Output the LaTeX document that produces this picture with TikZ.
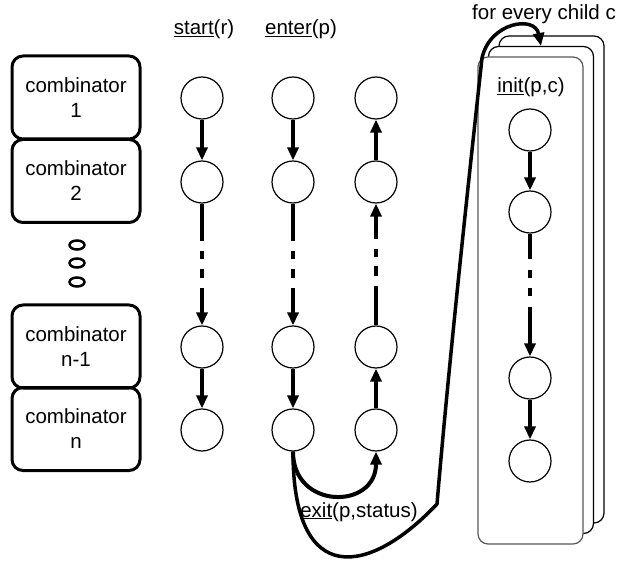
\documentclass[tikz,border=0pt]{standalone}
\usepackage{fontspec}
\setmainfont{Liberation Sans}
\usetikzlibrary{arrows.meta}
\begin{document}
\begin{tikzpicture}[x=1pt,y=-1pt,
  txt/.style={font=\fontsize{20.5}{25}\selectfont},
  comb/.style={draw, line width=3pt, rounded corners=11pt, minimum width=128pt, minimum height=83pt, align=center, inner sep=0pt, txt},
  st/.style={draw, circle, line width=1.2pt, minimum size=42pt, inner sep=0pt},
  tip/.style={-{Triangle[length=13pt,width=11pt]}},
  arr/.style={line width=4pt, tip},
  dd/.style={dash pattern=on 37pt off 10pt on 8pt off 10pt on 9pt off 10pt on 300pt},
  ddup/.style={dash pattern=on 39pt off 10pt on 10pt off 9pt on 8pt off 10pt on 300pt},
  ddi/.style={dash pattern=on 25pt off 11pt on 8pt off 10pt on 8pt off 11pt on 300pt},
  lab/.style={txt, inner sep=0pt, anchor=base},
  card/.style={draw, fill=white, line width=1.2pt, rounded corners=10pt}]
\useasboundingbox (0,0) rectangle (624,561);

% combinator boxes
\node[comb] (c1) at (76,97.5) {combinator\\1};
\node[comb] (c2) at (76,181) {combinator\\2};
\node[comb] (c3) at (76,346.5) {combinator\\n-1};
\node[comb] (c4) at (76,429) {combinator\\n};
\foreach \y in {245,263,282} \draw[line width=2.5pt] (77,\y) ellipse [x radius=7.5pt, y radius=4.5pt];

% labels
\node[lab] (ls) at (204,34.5) {\underline{start}(r)};
\node[lab] (le) at (301,34.5) {\underline{enter}(p)};
\node[lab] (lf) at (544,20) {for every child c};

% cards
\draw[card] (499,36) rectangle (604,523);
\draw[card] (488.5,46.5) rectangle (593.5,533.5);
\draw[card, draw=black!65] (478,57) rectangle (583,544);
\node[lab] (li) at (531,93) {\underline{init}(p,c)};

% state columns
\foreach \n/\y in {1/98,2/182,3/347,4/430}{
  \node[st] (s\n) at (202,\y) {};
  \node[st] (e\n) at (293,\y) {};
  \node[st] (x\n) at (376,\y) {};
}
\foreach \n/\y in {1/130,2/212,3/378,4/461}{
  \node[st] (i\n) at (530,\y) {};
}

% arrows
\draw[arr] (s1) -- (s2);
\draw[arr, dd] (s2) -- (s3);
\draw[arr] (s3) -- (s4);
\draw[arr] (e1) -- (e2);
\draw[arr, dd] (e2) -- (e3);
\draw[arr] (e3) -- (e4);
\draw[arr] (x2) -- (x1);
\draw[arr, ddup] (x3) -- (x2);
\draw[arr] (x4) -- (x3);
\draw[arr] (i1) -- (i2);
\draw[arr, ddi] (i2) -- (i3);
\draw[arr] (i3) -- (i4);

% exit curves
\draw[arr] (e4.south) .. controls (293,510) and (376,510) .. (x4.south);
\node[lab] (lx) at (359,517) {\underline{exit}(p,status)};
\coordinate (kink) at (437,504);
\coordinate (cardtop) at (541,46);
\draw[line width=3.5pt, tip] (e4.south) .. controls (293,590) and (370,575) .. (kink)
  .. controls (450,350) and (472,150) .. (482,58)
  .. controls (490,22) and (535,15) .. (cardtop);
\end{tikzpicture}
\end{document}
